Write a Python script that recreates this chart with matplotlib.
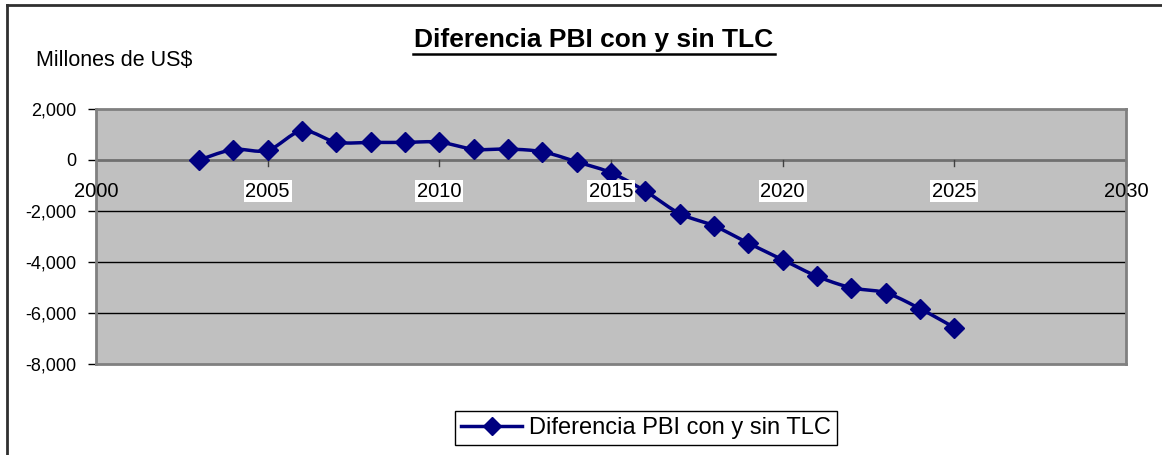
import matplotlib
matplotlib.use("Agg")
import matplotlib.pyplot as plt
import numpy as np
from matplotlib.lines import Line2D

plt.rcParams['font.family'] = ['Liberation Sans', 'DejaVu Sans']

years = [2003, 2004, 2005, 2006, 2007, 2008, 2009, 2010, 2011, 2012, 2013, 2014,
         2015, 2016, 2017, 2018, 2019, 2020, 2021, 2022, 2023, 2024, 2025]
values = [0, 410, 380, 1140, 700, 690, 690, 700, 420, 430, 320, -70,
          -500, -1220, -2100, -2580, -3260, -3910, -4560, -5010, -5210, -5830, -6570]
x_ticks = [2000, 2005, 2010, 2015, 2020, 2025, 2030]
y_ticks = [2000, 0, -2000, -4000, -6000, -8000]
y_tick_labels = ['2,000', '0', '-2,000', '-4,000', '-6,000', '-8,000']
title = 'Diferencia PBI con y sin TLC'
series_name = 'Diferencia PBI con y sin TLC'
y_unit = 'Millones de US$'

navy = '#000080'


def smooth(xs, ys, n=20):
    """Catmull-Rom style Bezier smoothing (like Excel smoothed lines)."""
    xs = np.asarray(xs, float)
    ys = np.asarray(ys, float)
    px = np.concatenate([[xs[0]], xs, [xs[-1]]])
    py = np.concatenate([[ys[0]], ys, [ys[-1]]])
    outx, outy = [], []
    t = np.linspace(0, 1, n)
    for i in range(1, len(px) - 2):
        p0 = np.array([px[i - 1], py[i - 1]])
        p1 = np.array([px[i], py[i]])
        p2 = np.array([px[i + 1], py[i + 1]])
        p3 = np.array([px[i + 2], py[i + 2]])
        c1 = p1 + (p2 - p0) / 6.0
        c2 = p2 - (p3 - p1) / 6.0
        b = ((1 - t) ** 3)[:, None] * p1 + (3 * (1 - t) ** 2 * t)[:, None] * c1 + \
            (3 * (1 - t) * t ** 2)[:, None] * c2 + (t ** 3)[:, None] * p2
        if i > 1:
            b = b[1:]
        outx.extend(b[:, 0])
        outy.extend(b[:, 1])
    return np.array(outx), np.array(outy)


fig = plt.figure(figsize=(11.62, 4.55), dpi=100)
fig.patch.set_facecolor('white')

# outer chart frame (left and top edges visible)
fig.add_artist(Line2D([7 / 1162, 7 / 1162], [0, 1 - 5 / 455], transform=fig.transFigure,
                      color='#303030', lw=2))
fig.add_artist(Line2D([7 / 1162, 1.0], [1 - 5 / 455, 1 - 5 / 455], transform=fig.transFigure,
                      color='#303030', lw=2))

ax = fig.add_axes([96 / 1162, 1 - 364 / 455, (1126 - 96) / 1162, (364 - 109) / 455])
ax.set_facecolor('#c0c0c0')
ax.set_xlim(2000, 2030)
ax.set_ylim(-8000, 2000)

for s in ax.spines.values():
    s.set_color('#808080')
    s.set_linewidth(2)

for yv in y_ticks:
    if yv not in (2000, -8000, 0):
        ax.axhline(yv, color='black', lw=1, zorder=1)
ax.axhline(0, color='#707070', lw=2, zorder=1.5)

ax.set_yticks(y_ticks)
ax.set_yticklabels(y_tick_labels, fontsize=13)
ax.tick_params(axis='y', length=6, width=1, color='black', pad=8, direction='out')
ax.set_xticks([])

# x tick marks hanging below the zero line
for xv in x_ticks:
    ax.plot([xv, xv], [0, -230], color='#404040', lw=1, zorder=1.6, clip_on=False)

sx, sy = smooth(years, values)
ax.plot(sx, sy, color=navy, lw=2.5, zorder=3, solid_capstyle='round')
ax.plot(years, values, linestyle='none', marker='D', markersize=10.5, color=navy, zorder=4)

for xv in x_ticks:
    has_box = xv not in (2000, 2030)
    ax.annotate(str(xv), xy=(xv, 0), xytext=(0, -22.5), textcoords='offset points',
                ha='center', va='center', fontsize=14.5, zorder=5, annotation_clip=False,
                bbox=dict(boxstyle='square,pad=0.08', fc='white', ec='none') if has_box else None)

# title with underline
fig.text(594 / 1162, 1 - 40 / 455, title, ha='center', va='center', fontsize=19,
         fontweight='bold')
fig.add_artist(Line2D([413 / 1162, 775 / 1162], [1 - 54 / 455, 1 - 54 / 455],
                      transform=fig.transFigure, color='black', lw=1.8))

fig.text(36 / 1162, 1 - 60 / 455, y_unit, ha='left', va='center', fontsize=15.5)

handle = Line2D([], [], color=navy, lw=2.5, marker='D', markersize=9)
leg = fig.legend([handle], [series_name], loc='center',
                 bbox_to_anchor=(646 / 1162, 1 - 428 / 455), fontsize=17,
                 frameon=True, fancybox=False, framealpha=1, edgecolor='black',
                 handlelength=2.6, handletextpad=0.3, borderpad=0.25, borderaxespad=0)
leg.get_frame().set_linewidth(1)

fig.savefig('out.png', dpi=100, facecolor='white')
